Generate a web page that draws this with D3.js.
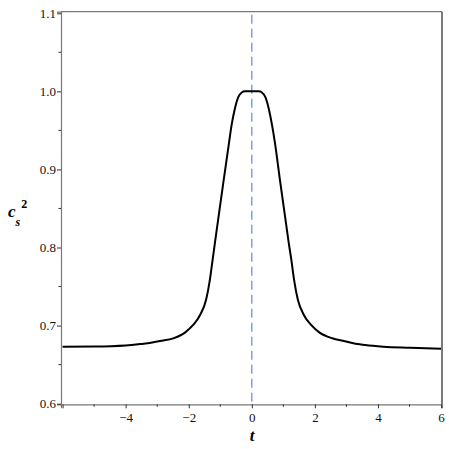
<!DOCTYPE html>
<html>
<head>
<meta charset="utf-8">
<script src="https://cdn.jsdelivr.net/npm/d3@7"></script>
<style>
body { margin: 0; background: #fff; }
</style>
</head>
<body>
<div id="chart-area"></div>
<script>
// curve c_s^2(t)
var tValues = [-6, -5, -4, -3.5, -3.2, -2.91, -2.49, -2.12, -1.86, -1.64, -1.45, -1.33, -1.24, -1.17, -1.06, -0.9, -0.72, -0.64, -0.53, -0.43, -0.32, -0.22, 0,
    0.22, 0.32, 0.43, 0.53, 0.64, 0.73, 0.9, 1.06, 1.17, 1.25, 1.34, 1.46, 1.65, 1.88, 2.15, 2.55, 2.95, 3.22, 3.6, 4.17, 5.02, 6];
var csValues = [0.673, 0.6732, 0.6745, 0.6765, 0.678, 0.6803, 0.6837, 0.691, 0.7008, 0.7136, 0.733, 0.7586, 0.785, 0.806, 0.838, 0.884, 0.935, 0.957, 0.979, 0.9925, 0.9985, 1.0, 1.0,
    1.0, 0.9985, 0.9925, 0.979, 0.957, 0.935, 0.884, 0.838, 0.806, 0.785, 0.7586, 0.733, 0.7136, 0.7008, 0.691, 0.6837, 0.68, 0.6773, 0.675, 0.673, 0.6717, 0.6704];
var xTicks = [-6, -4, -2, 0, 2, 4, 6];
var xTickLabels = ["", "\u22124", "\u22122", "0", "2", "4", "6"];
var xMinorTicks = [-5, -3, -1, 1, 3, 5];
var yTicks = [0.6, 0.7, 0.8, 0.9, 1.0, 1.1];
var yMinorTicks = [0.65, 0.75, 0.85, 0.95, 1.05];
var markerT = [0];

var serif = "Liberation Serif, Times New Roman, Times, serif";
var width = 449, height = 449;
var svg = d3.select("#chart-area").append("svg")
    .attr("width", width)
    .attr("height", height)
    .attr("font-family", serif);

var x = d3.scaleLinear().domain([-6.05, 6.03]).range([61, 442]);
var y = d3.scaleLinear().domain([0.5992, 1.102]).range([404.3, 11.7]);

var data = tValues.map((t, i) => { return {t: t, v: csValues[i]}; });

// frame top / right
svg.append("line").attr("x1", 61).attr("x2", 442).attr("y1", y.range()[1]).attr("y2", y.range()[1])
    .attr("stroke", "#777").attr("stroke-width", 1.2);
svg.append("line").attr("x1", 442).attr("x2", 442).attr("y1", y.range()[1]).attr("y2", y.range()[0])
    .attr("stroke", "#222").attr("stroke-width", 1.2);

// X axis
var xAxisGroup = svg.append("g").attr("transform", "translate(0," + y.range()[0] + ")");
xAxisGroup.call(d3.axisBottom(x).tickValues(xTicks).tickSize(4).tickPadding(4)
    .tickFormat((d, i) => { return xTickLabels[i]; }));
xAxisGroup.append("g").selectAll("line").data(xMinorTicks).enter().append("line")
    .attr("x1", (d) => { return x(d); }).attr("x2", (d) => { return x(d); })
    .attr("y1", 0).attr("y2", 2.5).attr("stroke", "#333");

// Y axis
var yAxisGroup = svg.append("g").attr("transform", "translate(" + x.range()[0] + ",0)");
yAxisGroup.call(d3.axisLeft(y).tickValues(yTicks).tickSize(4).tickPadding(1)
    .tickFormat(d3.format(".1f")));
yAxisGroup.append("g").selectAll("line").data(yMinorTicks).enter().append("line")
    .attr("y1", (d) => { return y(d); }).attr("y2", (d) => { return y(d); })
    .attr("x1", 0).attr("x2", -2.5).attr("stroke", "#333");

[xAxisGroup, yAxisGroup].forEach((g) => {
    g.attr("font-family", serif).attr("font-size", 13);
    g.select(".domain").attr("stroke", "#777").attr("stroke-width", 1.2);
    g.selectAll(".tick line").attr("stroke", "#333");
    g.selectAll(".tick text").attr("fill", "#111").style("font-family", serif).style("font-size", "13px");
});

// dashed marker at t = 0
svg.selectAll(".marker").data(markerT).enter().append("line")
    .attr("class", "marker")
    .attr("x1", (d) => { return x(d); }).attr("x2", (d) => { return x(d); })
    .attr("y1", y.range()[1] + 3).attr("y2", y.range()[0])
    .attr("stroke", "#5f84e6").attr("stroke-width", 1.2)
    .attr("stroke-dasharray", "9,5");

// curve
var line = d3.line()
    .x((d) => { return x(d.t); })
    .y((d) => { return y(d.v); })
    .curve(d3.curveMonotoneX);
svg.append("path").datum(data)
    .attr("d", line)
    .attr("fill", "none")
    .attr("stroke", "#000")
    .attr("stroke-width", 2);

// labels
var yLabel = svg.append("text").attr("x", 8).attr("y", 217)
    .attr("font-weight", "bold").attr("font-style", "italic").attr("font-size", 17);
yLabel.append("tspan").text("c");
yLabel.append("tspan").attr("font-size", 12).attr("dy", 9).text("s");
yLabel.append("tspan").attr("font-size", 12).attr("font-style", "normal").attr("dx", 1).attr("dy", -18).text("2");

svg.append("text")
    .attr("x", 252).attr("y", 441)
    .attr("text-anchor", "middle")
    .attr("font-weight", "bold").attr("font-style", "italic").attr("font-size", 17)
    .text("t");
</script>
</body>
</html>
